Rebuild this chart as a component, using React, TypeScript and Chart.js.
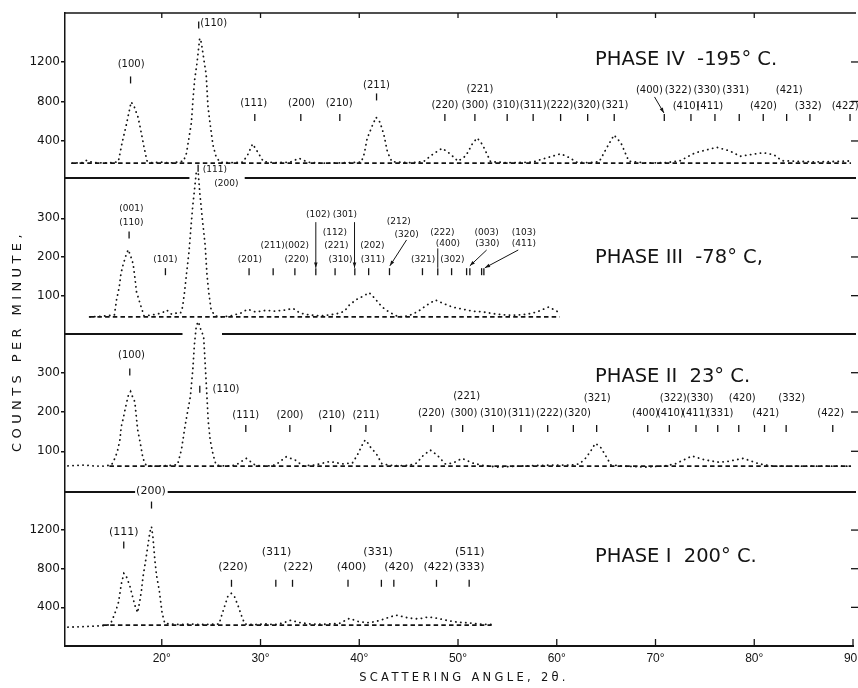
import { useEffect, useRef } from 'react';
import { Chart, registerables } from 'chart.js';

Chart.register(...registerables);

// ---------- shared x axis (scattering angle, degrees) ----------
const angleTicks = [20, 30, 40, 50, 60, 70, 80, 90];

// ---------- Phase IV  -195 °C ----------
const traceIV: [number, number][] = [
  [10.9, 175], [12, 180], [12.4, 205], [13, 182], [14, 178], [15, 180], [15.6, 190],
  [16.0, 390], [16.4, 560], [16.6, 655], [16.9, 795], [17.2, 750], [17.6, 640], [17.8, 545], [18.2, 340], [18.5, 200],
  [19, 180], [20, 185], [21, 178],
  [22.2, 195], [22.5, 275], [22.76, 435], [23.0, 585], [23.16, 815], [23.33, 1020], [23.57, 1190], [23.84, 1440],
  [24.0, 1400], [24.24, 1240], [24.5, 1070], [24.68, 750], [24.9, 570], [25.18, 360], [25.5, 240], [25.9, 185],
  [27, 180], [28.2, 185], [28.7, 260], [29.2, 370], [29.7, 290], [30.3, 190],
  [31.5, 180], [33, 185], [33.9, 225], [34.8, 185], [36, 175], [38, 178],
  [40.2, 185], [40.5, 270], [40.8, 425], [41.3, 550], [41.7, 640], [42.1, 590], [42.5, 460], [42.85, 290], [43.3, 190],
  [45, 180], [46.5, 190], [47.5, 270], [48.4, 326], [49.2, 270], [50, 195],
  [50.8, 250], [51.5, 380], [51.95, 430], [52.5, 360], [53.3, 190],
  [55, 180], [57.5, 185], [59, 230], [60.4, 270], [61.3, 230], [62, 185], [63, 180],
  [64.3, 190], [65, 320], [65.8, 460], [66.5, 380], [67.3, 195],
  [69, 178], [71, 180], [72.5, 200], [74, 280], [76.2, 336], [77.5, 300], [78.6, 245], [80.9, 282], [82, 260],
  [82.8, 200], [86, 188], [88, 192], [89.8, 198],
];
const baseIV: [number, number][] = [[10.9, 175], [89.8, 175]];
const yTicksIV = [400, 800, 1200];
const hklIV: [string, number, number][] = [
  ['(100)', 16.9, 1180], ['(110)', 25.25, 1595], ['(111)', 29.3, 785], ['(200)', 34.15, 785], ['(210)', 37.96, 785],
  ['(211)', 41.75, 967], ['(221)', 52.22, 927],
  ['(220)', 48.67, 765], ['(300)', 51.71, 765], ['(310)', 54.85, 765], ['(311)', 57.61, 765], ['(222)', 60.32, 765],
  ['(320)', 63.03, 765], ['(321)', 65.89, 765],
  ['(400)', 69.38, 916], ['(322)', 72.29, 916], ['(330)', 75.2, 916], ['(331)', 78.11, 916], ['(421)', 83.54, 916],
  ['(410)', 73.1, 754], ['(411)', 75.5, 754], ['(420)', 80.92, 754], ['(332)', 85.47, 754], ['(422)', 89.2, 754],
];
const marksIV: [number, number][] = [
  [16.84, 1018], [23.74, 1575], [29.42, 638], [34.08, 638], [38.03, 638], [41.75, 846],
  [48.67, 638], [51.71, 638], [54.98, 638], [57.61, 638], [60.39, 638], [63.13, 638], [65.82, 638],
  [70.89, 638], [73.59, 638], [76.02, 638], [78.48, 638], [80.91, 638], [83.28, 638], [85.64, 638], [89.7, 638],
];
const arrowsIV: [number, number, number, number, number][] = [[69.9, 846, 70.85, 684, 1]];
const titleIV = 'PHASE IV  -195° C.';
const titleAtIV: [number, number] = [63.87, 1220];

// ---------- Phase III  -78 °C ----------
const traceIII: [number, number][] = [
  [12.7, 45], [14, 47], [15.2, 50], [15.42, 89], [15.7, 123], [15.86, 156], [16.03, 175], [16.36, 203], [16.6, 219],
  [16.84, 203], [17.1, 182], [17.27, 148], [17.44, 110], [17.8, 80], [18.2, 48], [19, 50], [20, 55], [20.5, 63],
  [21, 52], [21.5, 55], [21.9, 55], [22.1, 70], [22.3, 108], [22.5, 155], [22.76, 214], [22.95, 275], [23.15, 335],
  [23.3, 370], [23.5, 420], [23.7, 415], [23.85, 365], [23.95, 340], [24.1, 300], [24.4, 229], [24.58, 154],
  [24.75, 110], [25.0, 63], [25.4, 48], [26, 45], [27, 48], [28, 55], [28.7, 65], [29.5, 58], [30.5, 62], [31.5, 60],
  [32.5, 63], [33.3, 67], [34, 55], [35, 50], [36, 48], [37, 50], [38, 55], [38.5, 60], [39.0, 76], [39.7, 90],
  [40.5, 100], [41.0, 108], [41.5, 95], [42.3, 71], [43, 58], [44, 45], [45, 48], [46, 60], [46.8, 75], [47.7, 89],
  [48.5, 80], [49.5, 70], [50.5, 65], [51.5, 60], [52.5, 58], [54, 52], [55, 50], [56, 50], [57, 52], [58, 58],
  [59.2, 71], [60, 60], [60.3, 55],
];
const baseIII: [number, number][] = [[12.7, 45], [60.3, 45]];
const yTicksIII = [100, 200, 300];
const hklIII: [string, number, number][] = [
  ['(001)', 16.93, 324], ['(110)', 16.93, 289], ['(101)', 20.37, 194], ['(111)', 25.37, 425], ['(200)', 26.55, 389],
  ['(201)', 28.92, 194], ['(211)(002)', 32.46, 228], ['(220)', 33.65, 194], ['(102)', 35.84, 309], ['(301)', 38.54, 309],
  ['(112)', 37.53, 263], ['(221)', 37.69, 228], ['(310)', 38.1, 192], ['(202)', 41.33, 228], ['(311)', 41.38, 192],
  ['(212)', 44.0, 291], ['(320)', 44.79, 257], ['(321)', 46.47, 192], ['(302)', 49.43, 192], ['(222)', 48.42, 263],
  ['(400)', 48.97, 235], ['(003)', 52.9, 263], ['(330)', 52.97, 235], ['(103)', 56.67, 263], ['(411)', 56.67, 235],
];
const marksIII: [number, number][] = [
  [16.69, 257], [23.68, 429], [20.37, 162], [28.84, 162], [31.28, 162], [33.48, 162], [35.6, 162], [37.55, 162],
  [39.55, 162], [40.95, 162], [43.06, 162], [46.4, 162], [47.95, 162], [49.35, 162], [50.87, 162], [51.2, 162],
  [52.39, 162], [52.62, 162],
];
const arrowsIII: [number, number, number, number, number][] = [
  [35.6, 290, 35.6, 172, 1], [39.52, 290, 39.52, 172, 1], [44.79, 244, 43.1, 177, 1],
  [52.9, 218, 51.2, 177, 1], [56.1, 218, 52.72, 172, 1], [47.95, 222, 47.95, 172, 0],
];
const titleIII = 'PHASE III  -78° C,';
const titleAtIII: [number, number] = [63.87, 197];

// ---------- Phase II  23 °C ----------
const traceII: [number, number][] = [
  [10.5, 63], [12, 65], [13, 63], [14, 62], [14.9, 65], [15.25, 82], [15.5, 99], [15.76, 129], [15.9, 163], [16.1, 184],
  [16.36, 215], [16.6, 241], [16.84, 252], [17.1, 235], [17.27, 226], [17.55, 156], [17.8, 124], [18.1, 82], [18.4, 65],
  [19, 62], [20, 63], [21, 64], [21.6, 66], [22.0, 105], [22.3, 155], [22.5, 185], [22.9, 240], [23.15, 310], [23.3, 370],
  [23.5, 420], [23.7, 430], [23.95, 410], [24.24, 392], [24.34, 349], [24.55, 252], [24.7, 178], [24.9, 129], [25.2, 91],
  [25.5, 65], [26.5, 62], [27.5, 65], [28.56, 82], [29.5, 64], [30.5, 62], [31.5, 65], [32.6, 86], [33.5, 78], [34.3, 63],
  [35.5, 65], [37, 74], [38.3, 68], [39.3, 70], [39.8, 90], [40.3, 116], [40.6, 129], [40.9, 120], [41.2, 108], [41.7, 95],
  [42.3, 68], [43.5, 63], [45, 64], [45.8, 70], [46.5, 90], [47.2, 103], [47.9, 90], [48.7, 68], [49.5, 70], [50.4, 82],
  [51.5, 70], [52.5, 64], [54, 60], [56, 62], [58, 64], [60, 65], [61.5, 65], [62.3, 68], [62.9, 82], [63.4, 99],
  [63.9, 120], [64.4, 112], [64.9, 91], [65.5, 65], [67, 62], [69, 60], [71, 63], [72, 68], [73.7, 88], [75, 78],
  [76.5, 72], [77.5, 75], [78.9, 82], [80.5, 68], [82, 62], [84, 62], [86, 62], [88, 62], [89.8, 62],
];
const baseII: [number, number][] = [[14.7, 62], [89.8, 62]];
const yTicksII = [100, 200, 300];
const hklII: [string, number, number][] = [
  ['(100)', 16.93, 345], ['(110)', 26.5, 258], ['(111)', 28.51, 192], ['(200)', 32.97, 192], ['(210)', 37.2, 192],
  ['(211)', 40.67, 192], ['(221)', 50.87, 239],
  ['(220)', 47.3, 197], ['(300)', 50.6, 197], ['(310)', 53.6, 197], ['(311)', 56.4, 197], ['(222)', 59.25, 197], ['(320)', 62.1, 197],
  ['(321)', 64.1, 235], ['(322)', 71.8, 235], ['(330)', 74.5, 235], ['(420)', 78.79, 235], ['(332)', 83.79, 235],
  ['(400)', 68.99, 197], ['(410)', 71.51, 197], ['(411)', 74.05, 197], ['(331)', 76.53, 197], ['(421)', 81.16, 197], ['(422)', 87.74, 197],
];
const marksII: [number, number][] = [
  [16.76, 302], [23.85, 258], [28.51, 158], [32.97, 158], [37.1, 158], [40.67, 158], [47.27, 158], [50.47, 158],
  [53.58, 158], [56.38, 158], [59.08, 158], [61.68, 158], [64.04, 158], [69.21, 158], [71.4, 158], [74.1, 158],
  [76.3, 158], [78.43, 158], [81.04, 158], [83.23, 158], [87.95, 158],
];
const arrowsII: [number, number, number, number, number][] = [];
const titleII = 'PHASE II  23° C.';
const titleAtII: [number, number] = [63.87, 289];

// ---------- Phase I  200 °C ----------
const traceI: [number, number][] = [
  [10.5, 195], [12, 200], [13, 205], [14, 210], [14.6, 218], [14.9, 250], [15.25, 338], [15.59, 440], [15.76, 545],
  [15.9, 640], [16.16, 752], [16.36, 735], [16.77, 620], [17.0, 527], [17.27, 424], [17.55, 345], [17.8, 480],
  [17.95, 579], [18.1, 717], [18.35, 872], [18.55, 1011], [18.8, 1183], [18.96, 1235], [19.1, 1131], [19.3, 890],
  [19.46, 735], [19.73, 586], [20.03, 344], [20.3, 235], [21, 228], [22, 222], [23, 228], [24, 222], [25, 225],
  [25.8, 228], [26.13, 338], [26.46, 441], [26.7, 517], [27.04, 545], [27.37, 510], [27.7, 424], [28.05, 320],
  [28.4, 228], [29.5, 222], [30.5, 228], [31.5, 222], [32.3, 240], [33.1, 268], [33.8, 245], [35, 228], [36.5, 225],
  [38, 235], [39.0, 286], [40, 250], [41, 240], [42, 262], [43.7, 320], [45, 290], [46, 280], [47, 300], [48, 285],
  [49, 262], [50, 245], [51, 240], [52, 228], [53.4, 222],
];
const baseI: [number, number][] = [[14, 217], [53.4, 217]];
const yTicksI = [400, 800, 1200];
const hklI: [string, number, number][] = [
  ['(200)', 18.9, 1607], ['(111)', 16.15, 1183], ['(220)', 27.22, 820], ['(311)', 31.62, 976], ['(222)', 33.81, 820],
  ['(331)', 41.91, 976], ['(400)', 39.21, 820], ['(420)', 44.02, 820], ['(511)', 51.2, 976], ['(422)', 47.99, 820],
  ['(333)', 51.2, 820],
];
const marksI: [number, number][] = [
  [18.96, 1459], [16.15, 1045], [27.06, 649], [31.55, 649], [33.24, 649], [38.86, 649], [42.24, 649], [43.5, 649],
  [47.82, 649], [51.13, 649],
];
const arrowsI: [number, number, number, number, number][] = [];
const titleI = 'PHASE I  200° C.';
const titleAtI: [number, number] = [63.87, 921];

const yTitle = 'COUNTS PER MINUTE,';
const xTitle = 'SCATTERING ANGLE, 2θ.';

// ---------- styling / layout ----------
const ink = '#141414';
const panels = [
  { id: 'y4', yTicks: yTicksIV, hkl: hklIV, marks: marksIV, arrows: arrowsIV, title: titleIV, titleAt: titleAtIV, size: 10 },
  { id: 'y3', yTicks: yTicksIII, hkl: hklIII, marks: marksIII, arrows: arrowsIII, title: titleIII, titleAt: titleAtIII, size: 9 },
  { id: 'y2', yTicks: yTicksII, hkl: hklII, marks: marksII, arrows: arrowsII, title: titleII, titleAt: titleAtII, size: 10 },
  { id: 'y1', yTicks: yTicksI, hkl: hklI, marks: marksI, arrows: arrowsI, title: titleI, titleAt: titleAtI, size: 11 },
];
const separatorIds = ['y3', 'y2', 'y1'];
const separatorGaps = [[22.8, 28.4], [22.1, 26.1], [17.3, 20.6]];

function seg(ctx: CanvasRenderingContext2D, x1: number, y1: number, x2: number, y2: number) {
  ctx.beginPath();
  ctx.moveTo(x1, y1);
  ctx.lineTo(x2, y2);
  ctx.stroke();
}

function arrow(ctx: CanvasRenderingContext2D, x1: number, y1: number, x2: number, y2: number, head: number) {
  seg(ctx, x1, y1, x2, y2);
  if (!head) return;
  const a = Math.atan2(y2 - y1, x2 - x1);
  const L = 5.5;
  ctx.beginPath();
  ctx.moveTo(x2, y2);
  ctx.lineTo(x2 - L * Math.cos(a - 0.33), y2 - L * Math.sin(a - 0.33));
  ctx.lineTo(x2 - L * Math.cos(a + 0.33), y2 - L * Math.sin(a + 0.33));
  ctx.closePath();
  ctx.fill();
}

const overlay = {
  id: 'overlay',
  afterDraw(chart: any) {
    const { ctx, chartArea: a, scales } = chart;
    const xs = scales.x;
    const X = (v: number) => xs.getPixelForValue(v);
    ctx.save();
    ctx.strokeStyle = ink;
    ctx.fillStyle = ink;
    ctx.setLineDash([]);
    ctx.lineCap = 'butt';
    // top frame with inward ticks, bottom inward ticks
    ctx.lineWidth = 1.6;
    seg(ctx, a.left, a.top, a.right + 3, a.top);
    ctx.lineWidth = 1.3;
    angleTicks.forEach((v) => {
      if (v < 90) seg(ctx, X(v), a.top, X(v), a.top + 5);
      seg(ctx, X(v), a.bottom, X(v), a.bottom - 7);
    });
    // panel separators
    ctx.lineWidth = 2;
    separatorIds.forEach((id, i) => {
      const y = scales[id].top;
      const [g0, g1] = separatorGaps[i];
      seg(ctx, a.left, y, X(g0), y);
      seg(ctx, X(g1), y, a.right + 3, y);
    });
    // right edge ticks
    ctx.lineWidth = 1.3;
    panels.forEach((p) => {
      const ys = scales[p.id];
      p.yTicks.forEach((v) => {
        const y = ys.getPixelForValue(v);
        seg(ctx, a.right - 2, y, a.right + 5, y);
      });
    });
    // reflection labels, marks, arrows, titles
    panels.forEach((p) => {
      const ys = scales[p.id];
      const Y = (v: number) => ys.getPixelForValue(v);
      ctx.font = `${p.size}px "DejaVu Sans"`;
      ctx.textAlign = 'center';
      ctx.textBaseline = 'middle';
      p.hkl.forEach(([t, ang, c]) => ctx.fillText(t, X(ang), Y(c)));
      ctx.lineWidth = 1.3;
      p.marks.forEach(([ang, c]) => seg(ctx, X(ang), Y(c) - 3.5, X(ang), Y(c) + 3.5));
      ctx.lineWidth = 1;
      p.arrows.forEach(([a1, c1, a2, c2, h]) => arrow(ctx, X(a1), Y(c1), X(a2), Y(c2), h));
      ctx.font = '19.5px "DejaVu Sans"';
      ctx.textAlign = 'left';
      ctx.fillText(p.title, X(p.titleAt[0]), Y(p.titleAt[1]));
    });
    // axis titles
    ctx.textAlign = 'center';
    ctx.textBaseline = 'middle';
    ctx.font = '13px "DejaVu Sans"';
    (ctx as any).letterSpacing = '4.4px';
    ctx.save();
    ctx.translate(18, 341);
    ctx.rotate(-Math.PI / 2);
    ctx.fillText(yTitle, 0, 0);
    ctx.restore();
    ctx.font = '11.5px "DejaVu Sans"';
    (ctx as any).letterSpacing = '3.3px';
    ctx.fillText(xTitle, 464, 678);
    (ctx as any).letterSpacing = '0px';
    ctx.restore();
  },
};

function yScale(stackWeight: number, weight: number, min: number, max: number, ticks: number[]) {
  return {
    type: 'linear',
    position: 'left',
    stack: 'panels',
    stackWeight,
    weight,
    min,
    max,
    afterBuildTicks: (s: any) => {
      s.ticks = ticks.map((v) => ({ value: v }));
    },
    afterFit: (s: any) => {
      s.width = 57;
      s.paddingTop = 0;
      s.paddingBottom = 0;
    },
    ticks: {
      color: ink,
      font: { family: 'DejaVu Sans', size: 12 },
      padding: 1,
      callback: (v: any) => String(v),
    },
    grid: { drawOnChartArea: false, tickLength: 4, color: ink, lineWidth: 1.5 },
    border: { color: ink, width: 1.5 },
  };
}

function traceSet(data: [number, number][], yAxisID: string) {
  return {
    data: data.map(([x, y]) => ({ x, y })),
    yAxisID,
    borderColor: ink,
    borderWidth: 1.8,
    borderDash: [0.2, 4.8],
    borderCapStyle: 'round',
    pointRadius: 0,
    tension: 0,
    fill: false,
    clip: false,
  };
}

function baseSet(data: [number, number][], yAxisID: string) {
  return {
    data: data.map(([x, y]) => ({ x, y })),
    yAxisID,
    borderColor: ink,
    borderWidth: 1.8,
    borderDash: [4.5, 3.2],
    pointRadius: 0,
    fill: false,
    clip: false,
  };
}

export default function App() {
  const ref = useRef<HTMLCanvasElement>(null);
  useEffect(() => {
    const canvas = ref.current;
    if (!canvas) return;
    const chart = new Chart(canvas, {
      type: 'line',
      data: {
        datasets: [
          baseSet(baseIV, 'y4'), traceSet(traceIV, 'y4'),
          baseSet(baseIII, 'y3'), traceSet(traceIII, 'y3'),
          baseSet(baseII, 'y2'), traceSet(traceII, 'y2'),
          baseSet(baseI, 'y1'), traceSet(traceI, 'y1'),
        ] as any,
      },
      options: {
        animation: false,
        responsive: false,
        events: [],
        layout: { padding: { left: 8, top: 13, right: 5, bottom: 0 }, autoPadding: false },
        plugins: { legend: { display: false }, tooltip: { enabled: false } },
        scales: {
          x: {
            type: 'linear',
            min: 10.2,
            max: 90,
            afterBuildTicks: (s: any) => {
              s.ticks = angleTicks.map((v) => ({ value: v }));
            },
            afterFit: (s: any) => {
              s.height = 42;
              s.paddingLeft = 0;
              s.paddingRight = 0;
            },
            ticks: {
              color: ink,
              font: { family: 'Liberation Sans', size: 12 },
              padding: 5,
              maxRotation: 0,
              minRotation: 0,
              autoSkip: false,
              callback: (v: any) => `${v}°`,
            },
            grid: { drawOnChartArea: false, drawTicks: false },
            border: { color: ink, width: 2 },
          },
          y1: yScale(154, 1, 0, 1594, yTicksI),
          y2: yScale(158, 2, -3.6, 398.5, yTicksII),
          y3: yScale(156, 3, 1, 404, yTicksIII),
          y4: yScale(165, 4, 25, 1696, yTicksIV),
        } as any,
      },
      plugins: [overlay],
    });
    return () => chart.destroy();
  }, []);
  return (
    <div style={{ position: 'fixed', left: 0, top: 0, width: 858, height: 688, background: '#fff' }}>
      <canvas ref={ref} width={858} height={688} style={{ display: 'block', width: 858, height: 688 }} />
    </div>
  );
}
